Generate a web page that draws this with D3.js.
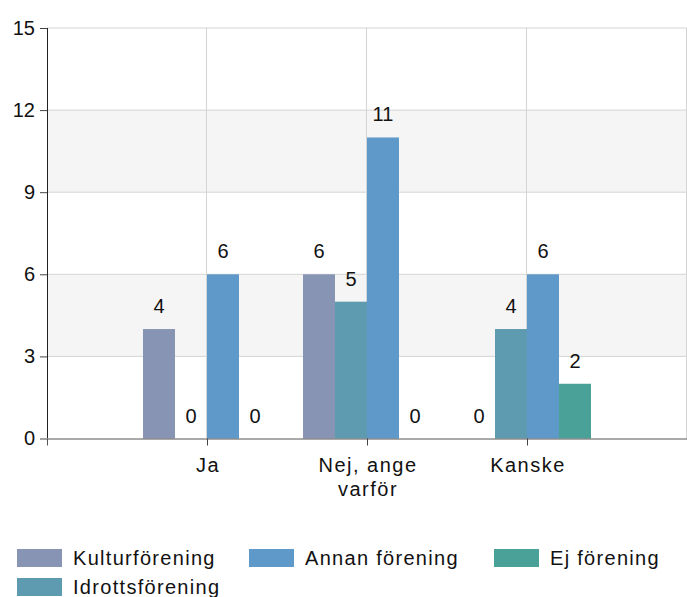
<!DOCTYPE html>
<html>
<head>
<meta charset="UTF-8" />
<title>Förening</title>
<style>
  body { margin: 0; background: #fff; }
  svg text { font-family: "Liberation Sans", Arial, sans-serif; fill: #111; }
  .grid line { stroke: #d4d4d4; stroke-width: 1px; }
  .band { fill: #f5f5f5; }
  .tick-label { font-size: 20px; }
  .xlab { font-size: 20px; letter-spacing: 1.5px; }
  .val { font-size: 20px; text-anchor: middle; }
  .legend text { font-size: 20px; letter-spacing: 1.3px; }
</style>
<script src="https://d3js.org/d3.v7.min.js"></script>
</head>
<body>
<script>
// ---- data ----
var categories = ["Ja", "Nej, ange varför", "Kanske"];
var catLines = [["Ja"], ["Nej, ange", "varför"], ["Kanske"]];
var series = ["Kulturförening", "Idrottsförening", "Annan förening", "Ej förening"];
var colors = ["#8794b4", "#5f9bb0", "#5e99ca", "#4aa198"];
// values[series][category]
var values = [
  [4, 6, 0],
  [0, 5, 4],
  [6, 11, 6],
  [0, 0, 2]
];
var yTicks = [0, 3, 6, 9, 12, 15];
var legendOrder = ["Kulturförening", "Annan förening", "Ej förening", "Idrottsförening"];

var width = 687, height = 597;
var plotLeft = 47, plotRight = 687, plotTop = 28, plotBottom = 438.5;

var svg = d3.select("body").append("svg")
    .attr("width", width)
    .attr("height", height);

// category centres sit at 1..3 on a 0..4 axis
var x = d3.scaleLinear().domain([0, 4]).range([plotLeft, plotRight]);
var y = d3.scaleLinear().domain([0, 15]).range([plotBottom, plotTop]);
var sub = d3.scaleBand().domain(series).range([-64, 64]);

// alternating bands
var bandPairs = [[3, 6], [9, 12]];
svg.selectAll(".band").data(bandPairs).enter().append("rect")
  .attr("class", "band")
  .attr("x", plotLeft)
  .attr("width", plotRight - plotLeft)
  .attr("y", function(d) { return y(d[1]); })
  .attr("height", function(d) { return y(d[0]) - y(d[1]); });

// grid
var grid = svg.append("g").attr("class", "grid");
grid.selectAll(".h").data(yTicks.slice(1)).enter().append("line")
  .attr("x1", plotLeft).attr("x2", plotRight)
  .attr("y1", function(d) { return y(d); })
  .attr("y2", function(d) { return y(d); });
grid.selectAll(".v").data([1, 2, 3, 4]).enter().append("line")
  .attr("x1", function(d) { return x(d) - 0.5; })
  .attr("x2", function(d) { return x(d) - 0.5; })
  .attr("y1", plotTop).attr("y2", plotBottom);

// bars
var groups = svg.selectAll(".series").data(series).enter().append("g")
  .attr("fill", function(d, i) { return colors[i]; });

function rows(s, i) {
  return values[i].map(function(v, j) { return {s: s, c: j, v: v}; });
}

groups.selectAll("rect")
  .data(rows)
  .enter().append("rect")
  .attr("x", function(d) { return x(d.c + 1) + sub(d.s); })
  .attr("width", sub.bandwidth())
  .attr("y", function(d) { return y(d.v); })
  .attr("height", function(d) { return y(0) - y(d.v); });

groups.selectAll("text")
  .data(rows)
  .enter().append("text")
  .attr("class", "val")
  .attr("x", function(d) { return x(d.c + 1) + sub(d.s) + sub.bandwidth() / 2; })
  .attr("y", function(d) { return y(d.v) - 16; })
  .text(function(d) { return d.v; });

// y axis
var yAxis = svg.append("g").attr("transform", "translate(" + plotLeft + ",0)")
  .call(d3.axisLeft(y).tickValues(yTicks).tickSize(7).tickPadding(5));
yAxis.select(".domain").attr("stroke", "#222").attr("d", "M0.5," + plotTop + "V" + plotBottom);
yAxis.selectAll(".tick line").attr("stroke", "#444");
yAxis.selectAll("text").attr("class", "tick-label").attr("fill", "#111").style("font-size", "20px");

// x axis
var xAxis = svg.append("g").attr("transform", "translate(0," + plotBottom + ")")
  .call(d3.axisBottom(x).tickValues([1, 2, 3, 4]).tickSize(7).tickFormat(""));
xAxis.select(".domain").attr("stroke", "#555");
xAxis.selectAll(".tick line").attr("stroke", "#444");

svg.selectAll(".xlab").data(catLines).enter().append("text")
  .attr("class", "xlab")
  .attr("text-anchor", "middle")
  .attr("x", function(d, i) { return x(i + 1) + 1; })
  .attr("y", 472)
  .selectAll("tspan").data(function(d) { return d; }).enter().append("tspan")
  .attr("x", function() { return d3.select(this.parentNode).attr("x"); })
  .attr("dy", function(d, i) { return i ? 24 : 0; })
  .text(function(d) { return d; });

// legend
var legPos = [[17, 549], [249, 549], [494, 549], [17, 578]];
var legend = svg.append("g").attr("class", "legend");
var items = legend.selectAll("g").data(legendOrder).enter().append("g")
  .attr("transform", function(d, i) { return "translate(" + legPos[i][0] + "," + legPos[i][1] + ")"; });
items.append("rect")
  .attr("width", 45).attr("height", 18)
  .attr("fill", function(d) { return colors[series.indexOf(d)]; });
items.append("text")
  .attr("x", 56).attr("y", 16)
  .text(function(d) { return d; });
</script>
</body>
</html>
